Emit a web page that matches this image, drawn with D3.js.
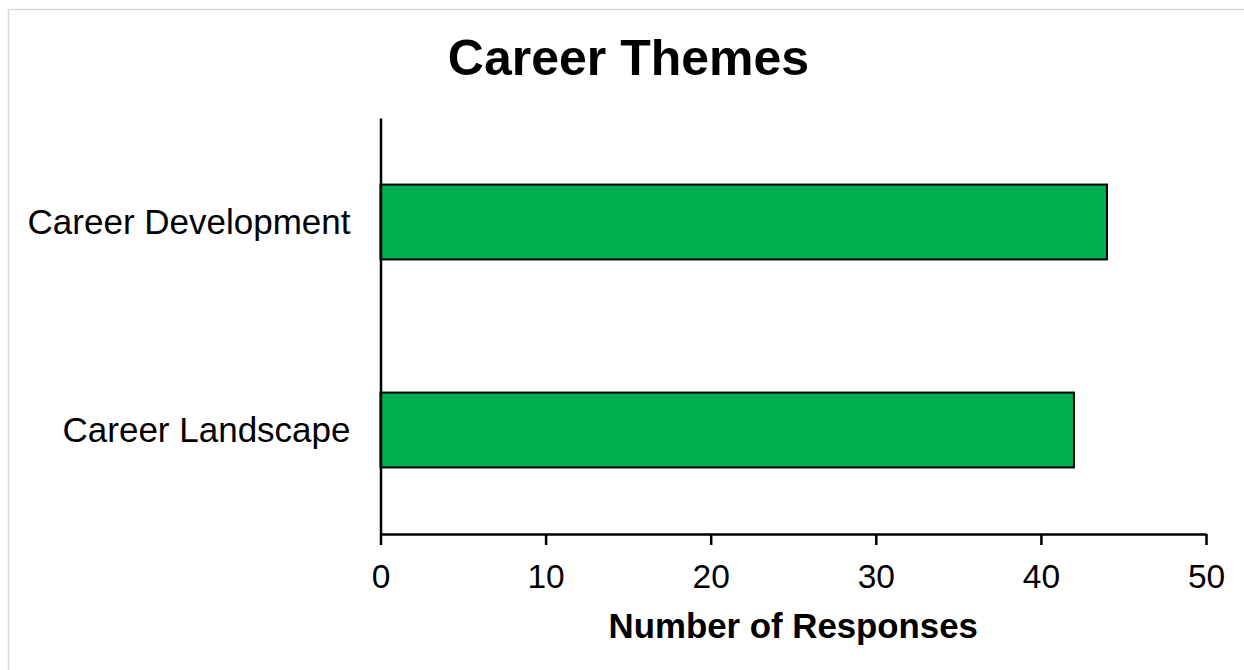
<!DOCTYPE html>
<html>
<head>
<meta charset="utf-8">
<script src="https://cdn.jsdelivr.net/npm/d3@7"></script>
<style>
  html, body { margin: 0; padding: 0; background: #fff; }
  svg { display: block; }
</style>
</head>
<body>
<script>
const categories = ["Career Development", "Career Landscape"];
const values = [44, 42];
const xTicks = [0, 10, 20, 30, 40, 50];
const titleText = "Career Themes";
const xAxisTitle = "Number of Responses";

(function () {
const W = 1244, H = 670;
const font = "'Liberation Sans', Arial, sans-serif";
const svg = d3.select("body").append("svg").attr("width", W).attr("height", H);

// outer frame (partially visible)
svg.append("rect")
  .attr("x", 8.5).attr("y", 9.5).attr("width", 1400).attr("height", 800)
  .attr("fill", "none").attr("stroke", "#d9d9d9").attr("stroke-width", 1.5);

const pLeft = 380.5, pRight = 1206, pTop = 118, pBottom = 534;

const x = d3.scaleLinear().domain([0, 50]).range([pLeft, pRight]);
const y = d3.scaleBand().domain(categories).range([pTop, pBottom])
  .paddingInner(0.64).paddingOuter(0.32);

// bars
svg.append("g").selectAll("rect")
  .data(categories.map((c, i) => ({ c, v: values[i] })))
  .join("rect")
  .attr("x", x(0))
  .attr("y", d => y(d.c))
  .attr("width", d => x(d.v) - x(0))
  .attr("height", y.bandwidth())
  .attr("fill", "#00b050")
  .attr("stroke", "#000")
  .attr("stroke-width", 2);

// x axis
const xAxis = svg.append("g")
  .attr("transform", `translate(0,${pBottom})`)
  .call(d3.axisBottom(x).tickValues(xTicks).tickSize(11).tickSizeOuter(0).tickPadding(10));
xAxis.select(".domain").attr("stroke", "#000").attr("stroke-width", 2.5);
xAxis.selectAll(".tick line").attr("stroke", "#000").attr("stroke-width", 2.5);
xAxis.selectAll(".tick text")
  .attr("font-family", font).attr("font-size", 33.5).attr("fill", "#000")
  .attr("dy", null).attr("y", 54);

// y axis
const yAxis = svg.append("g")
  .attr("transform", `translate(${pLeft},0)`)
  .call(d3.axisLeft(y).tickSize(0).tickSizeOuter(0).tickPadding(30));
yAxis.select(".domain").attr("stroke", "#000").attr("stroke-width", 2.5);
yAxis.selectAll(".tick text")
  .attr("font-family", font).attr("font-size", 35).attr("fill", "#000")
  .attr("dy", "0.34em");

// title
svg.append("text")
  .attr("x", 628.5).attr("y", 75)
  .attr("text-anchor", "middle")
  .attr("font-family", font).attr("font-weight", "bold").attr("font-size", 50)
  .attr("fill", "#000")
  .text(titleText);

// x axis title
svg.append("text")
  .attr("x", (pLeft + pRight) / 2).attr("y", 638)
  .attr("text-anchor", "middle")
  .attr("font-family", font).attr("font-weight", "bold").attr("font-size", 34.8)
  .attr("fill", "#000")
  .text(xAxisTitle);
})();
</script>
</body>
</html>
